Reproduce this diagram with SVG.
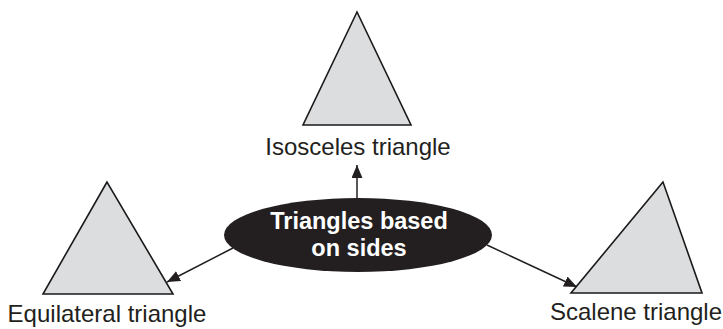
<svg xmlns="http://www.w3.org/2000/svg" width="723" height="329" viewBox="0 0 723 329">
<style>
.tri{fill:#dcdddf;stroke:#1a1a1a;stroke-width:1.6;stroke-linejoin:miter}
.lbl{font-family:"Liberation Sans",Arial,sans-serif;font-size:24px;fill:#231f20;text-anchor:middle}
.hub{font-family:"Liberation Sans",Arial,sans-serif;font-size:23.5px;font-weight:bold;fill:#ffffff;text-anchor:middle}
.con{stroke:#231f20;stroke-width:1.5;fill:none;marker-end:url(#ah)}
</style>
<defs>
<marker id="ah" markerWidth="13" markerHeight="11" refX="13" refY="5.5" orient="auto" markerUnits="userSpaceOnUse">
<path d="M0,0 L13,5.5 L0,11 Z" fill="#231f20"/>
</marker>
</defs>
<rect width="723" height="329" fill="#ffffff"/>
<g id="connectors">
<line class="con" x1="357" y1="198" x2="357" y2="165"/>
<line class="con" x1="233" y1="248" x2="167" y2="282"/>
<line class="con" x1="487" y1="245" x2="577" y2="287"/>
</g>
<g id="isosceles">
<polygon class="tri" points="357,12 303,125 411,125"/>
<text class="lbl" x="358" y="155">Isosceles triangle</text>
</g>
<g id="equilateral">
<polygon class="tri" points="107,182 43,294 173,294"/>
<text class="lbl" x="107" y="322">Equilateral triangle</text>
</g>
<g id="scalene">
<polygon class="tri" points="663,182 571,293 702,293"/>
<text class="lbl" x="636" y="320">Scalene triangle</text>
</g>
<g id="hub">
<ellipse cx="358" cy="235" rx="134" ry="37" fill="#231f20"/>
<text class="hub" x="359" y="229">Triangles based</text>
<text class="hub" x="359" y="256">on sides</text>
</g>
</svg>
